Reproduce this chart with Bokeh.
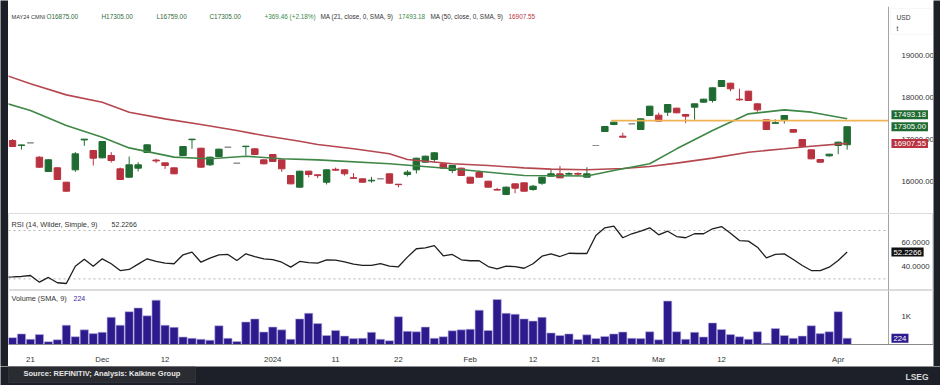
from bokeh.plotting import figure
from bokeh.layouts import column, row
from bokeh.models import (Range1d, FixedTicker, NumeralTickFormatter, Label, ColumnDataSource,
                          BoxAnnotation)
from bokeh.embed import file_html
from bokeh.resources import INLINE

# ---------------- data ----------------
idx = list(range(94))
opens = [16976, 16860, 16920, 16580, 16238, 16326, 15983, 16278, 16990, 16738,
         16563, 16619, 16302, 16103, 16317, 16690, 16510, 16444, 16325, 16619,
         16995, 16793, 16397, 16595, 16817, 16436, 16830, 16778, 16516, 16643,
         16516, 16143, 15865, 16246, 16160, 15983, 16290, 16278, 16090, 16064,
         16015, 16064, 16183, 15935, 16167, 16278, 16460, 16524, 16421, 16262,
         16317, 16103, 16214, 16008, 15808, 15690, 15944, 15968, 15809, 15960,
         16127, 16183, 16175, 16190, 16103, 16857, 17190, 17357, 17079, 17373,
         17238, 17571, 17579, 17651, 17746, 17595, 17770, 17889, 17929, 18262,
         18341, 17960, 18151, 17849, 17468, 17385, 17452, 17238, 17000, 16754,
         16524, 16611, 16857, 16875]
closes = [16833, 16870, 16920, 16340, 16517, 16048, 15769, 16658, 17008, 16555,
          16952, 16500, 16048, 16397, 16397, 16873, 16490, 16380, 16183, 16833,
          17008, 16341, 16579, 16770, 16817, 16436, 16841, 16643, 16421, 16476,
          16302, 15944, 16246, 16167, 16140, 16278, 16270, 16183, 16075, 15983,
          16030, 16064, 15960, 15925, 16222, 16555, 16603, 16683, 16317, 16381,
          16143, 15960, 16103, 15865, 15795, 15865, 15841, 15769, 15888, 16103,
          16183, 16087, 16190, 16175, 16183, 16857, 17310, 17413, 17056, 17373,
          17492, 17794, 17437, 17833, 17635, 17556, 17849, 17960, 18230, 18405,
          18207, 17945, 17929, 17706, 17238, 17400, 17571, 17174, 16833, 16540,
          16460, 16650, 16936, 17305]
highs = [17010, 16875, 16925, 16600, 16530, 16340, 15990, 16700, 17015, 16745,
         16960, 16700, 16330, 16595, 16460, 16880, 16540, 16450, 16330, 16840,
         17015, 16800, 16590, 16780, 16822, 16440, 16845, 16790, 16525, 16650,
         16525, 16150, 16255, 16255, 16165, 16290, 16330, 16290, 16200, 16070,
         16110, 16070, 16190, 15940, 16270, 16565, 16615, 16700, 16430, 16390,
         16330, 16110, 16260, 16015, 15850, 15880, 15950, 15975, 15920, 16110,
         16280, 16370, 16220, 16220, 16340, 16862, 17320, 17425, 17160, 17378,
         17500, 17800, 17640, 17845, 17755, 17610, 17860, 17970, 18240, 18415,
         18350, 18210, 18160, 17860, 17480, 17480, 17580, 17245, 17010, 16760,
         16530, 16660, 16950, 17305]
lows = [16820, 16760, 16915, 16330, 16230, 16040, 15760, 16230, 16850, 16380,
        16555, 16450, 16040, 16090, 16240, 16680, 16440, 16300, 16175, 16610,
        16780, 16330, 16370, 16585, 16812, 16430, 16619, 16635, 16410, 16465,
        16230, 15935, 15855, 16100, 16080, 15930, 16250, 16140, 16070, 15975,
        15970, 16058, 15950, 15860, 16120, 16190, 16450, 16450, 16300, 16200,
        16135, 15950, 16095, 15855, 15790, 15680, 15720, 15760, 15780, 15920,
        16120, 16080, 16150, 16130, 16095, 16852, 17180, 17340, 17050, 17368,
        17230, 17560, 17430, 17560, 17625, 17390, 17470, 17880, 17880, 18250,
        18150, 17920, 17920, 17660, 17230, 17380, 17380, 17165, 16825, 16530,
        16450, 16590, 16650, 16759]
volumes = [241, 373, 185, 350, 99, 165, 680, 274, 515, 383,
           429, 957, 680, 1155, 1287, 1010, 1561, 680, 604, 264,
           218, 185, 152, 660, 218, 109, 792, 901, 439, 614,
           515, 185, 901, 1099, 736, 317, 495, 297, 208, 218,
           429, 185, 132, 977, 462, 449, 614, 218, 274, 482,
           515, 538, 1208, 495, 1584, 1099, 1066, 901, 824, 957,
           406, 317, 373, 175, 340, 208, 284, 373, 439, 218,
           208, 449, 165, 1528, 449, 185, 429, 264, 759, 527,
           350, 274, 185, 449, 43, 561, 317, 218, 297, 660,
           383, 449, 1155, 224]
rsi_x = list(range(-1, 94))
rsi_vals = [31.3, 31.6, 32.0, 32.8, 27.3, 31.2, 26.8, 26.2, 40.5, 46.3,
            40.5, 46.6, 42.5, 36.9, 37.8, 42.2, 46.6, 44.4, 43.0, 42.5,
            49.9, 52.1, 43.8, 47.1, 49.9, 50.2, 45.2, 50.7, 48.5, 46.6,
            46.0, 43.8, 39.7, 44.4, 43.5, 43.0, 45.8, 45.5, 44.1, 42.2,
            41.1, 41.1, 42.7, 40.5, 40.0, 48.0, 54.9, 55.7, 57.5, 49.1,
            50.2, 45.8, 45.0, 45.0, 40.2, 38.3, 40.5, 40.2, 38.8, 42.5,
            48.8, 50.7, 48.5, 51.2, 51.0, 51.0, 65.9, 72.2, 73.6, 64.0,
            67.3, 69.4, 72.2, 66.4, 69.4, 65.0, 64.0, 67.3, 67.3, 71.4,
            73.3, 67.8, 61.7, 61.2, 56.2, 47.4, 50.2, 50.7, 46.0, 41.1,
            36.9, 36.9, 39.7, 45.2, 52.2266]
ma21_x = [-1, 2, 6, 10, 13, 18, 22, 26, 30, 34, 42, 49, 57, 64, 67, 71, 74, 78, 82, 86, 89, 93]
ma21_y = [17880, 17690, 17333, 17055, 16800, 16580, 16540, 16603, 16540, 16516, 16421,
          16302, 16143, 16130, 16262, 16421, 16778, 17214, 17611, 17706, 17651, 17493.18]
ma50_x = [-1, 2, 6, 10, 13, 17, 21, 25, 28, 32, 34, 38, 42, 44, 49, 53, 57, 60, 64,
          68, 71, 74, 78, 82, 86, 89, 93]
ma50_y = [18550, 18325, 18063, 17889, 17651, 17492, 17357, 17214, 17095, 16960, 16881,
          16778, 16659, 16524, 16421, 16381, 16325, 16294, 16278, 16310, 16357, 16437,
          16556, 16698, 16778, 16840, 16907.55]
level_start = [66.7]
level_value = [17450]
tick_idx = [2, 10, 17, 29, 36, 43, 51, 58, 65, 72, 79, 92]
tick_labels = ["21", "Dec", "12", "2024", "11", "22", "Feb", "12", "21", "Mar", "12", "Apr"]
price_ticks = [16000, 17000, 18000, 19000]
rsi_ticks = [40, 60]
rsi_levels = [70, 30]
vol_ticks = [1000]

# ---------------- styling ----------------
FONT = "Liberation Sans"
DARK = "#1d2029"
W = 925                     # white chart area width
X0, X1 = -0.4457, 102.62    # index range across the white area
AXIS_X = 97.6               # where the price scale column starts
GREEN = "#1f6b31"
RED = "#b8323f"
GREY = "#8c8c8c"
TXT = "#333333"

x_range = Range1d(X0, X1)


def make_fig(h, yr, bottom=0, xaxis=False):
    p = figure(width=W, height=h, x_range=x_range, y_range=yr, output_backend="svg",
               toolbar_location=None, min_border_left=0, min_border_right=0,
               min_border_top=0, min_border_bottom=bottom,
               x_axis_location="below" if xaxis else None, y_axis_location="right")
    p.xgrid.visible = False
    p.ygrid.visible = False
    p.background_fill_color = "white"
    p.border_fill_color = "white"
    ax = p.yaxis[0]
    ax.fixed_location = AXIS_X
    ax.major_tick_line_color = None
    ax.minor_tick_line_color = None
    ax.axis_line_color = "#a3a3a3"
    ax.major_label_text_font = FONT
    ax.major_label_text_font_size = "7.8px"
    ax.major_label_text_color = TXT
    ax.major_label_standoff = 7
    return p


def box(p, y, text, bg, yoff=0, fg="white"):
    p.add_layout(Label(x=AXIS_X, y=y, x_units="data", y_units="data", text=text,
                       text_color=fg, background_fill_color=bg, text_font=FONT,
                       text_font_size="7.8px", text_baseline="middle", text_align="left",
                       padding=2, x_offset=3, y_offset=yoff))


def head(p, x, y, text, color=TXT, size="6.4px", style="normal"):
    p.add_layout(Label(x=x, y=y, x_units="screen", y_units="screen", text=text,
                       text_color=color, text_font=FONT, text_font_size=size,
                       text_font_style=style, text_baseline="middle", text_align="left"))


def strip(w, h):
    s = figure(width=w, height=h, x_range=Range1d(0, 1), y_range=Range1d(0, 1),
               output_backend="svg", toolbar_location=None, min_border=0,
               x_axis_location=None, y_axis_location=None)
    s.xgrid.visible = False
    s.ygrid.visible = False
    s.outline_line_color = None
    s.background_fill_color = DARK
    s.border_fill_color = DARK
    return s


# ---------------- price panel ----------------
H1 = 207
p1 = make_fig(H1, Range1d(15238, 20167))
p1.outline_line_color = None
p1.yaxis[0].ticker = FixedTicker(ticks=price_ticks)
p1.yaxis[0].formatter = NumeralTickFormatter(format="0.00")

colors = [GREEN if c > o else (RED if c < o else GREY) for o, c in zip(opens, closes)]
src = ColumnDataSource(dict(x=idx, o=opens, c=closes, h=highs, l=lows, col=colors))
p1.segment(x0="x", x1="x", y0="l", y1="h", color="col", line_width=1, source=src)
p1.vbar(x="x", width=0.72, top="o", bottom="c", fill_color="col", line_color="col",
        line_width=1, source=src)
p1.line(ma50_x, ma50_y, line_color="#b5474f", line_width=1.6)
p1.line(ma21_x, ma21_y, line_color="#3f8746", line_width=1.6)
p1.segment(x0=level_start, x1=[AXIS_X] * len(level_start), y0=level_value,
           y1=level_value, line_color="#efb254", line_width=1.6)

hy = H1 - 10
head(p1, 3, hy, "MAY24 CMNI", TXT, "5.6px")
head(p1, 38, hy, "O16875.00", "#2f6a3c")
head(p1, 93, hy, "H17305.00", "#2f6a3c")
head(p1, 148, hy, "L16759.00", "#2f6a3c")
head(p1, 201, hy, "C17305.00", "#2f6a3c")
head(p1, 256, hy, "+369.46 (+2.18%)", "#3d8a4a")
head(p1, 312, hy, "MA (21, close, 0, SMA, 9)")
head(p1, 390, hy, "17493.18", "#3d8a4a")
head(p1, 422, hy, "MA (50, close, 0, SMA, 9)")
head(p1, 500, hy, "16907.55", RED)
p1.add_layout(BoxAnnotation(left=882, right=923, top=H1 - 2, bottom=H1 - 28,
                            left_units="screen", right_units="screen", top_units="screen",
                            bottom_units="screen", fill_color="white", fill_alpha=1,
                            line_color="#e4e4e4", line_width=1))
head(p1, 888, H1 - 11, "USD", TXT, "6.6px")
head(p1, 888, H1 - 22, "t", TXT, "6.6px")

box(p1, 17493.18, "17493.18", GREEN, yoff=4)
box(p1, 17305.00, "17305.00", GREEN)
box(p1, 16907.55, "16907.55", RED)

# ---------------- RSI panel ----------------
H2 = 77
p2 = make_fig(H2, Range1d(20.41, 84.05))
p2.outline_line_color = "#dcdcdc"
p2.yaxis[0].ticker = FixedTicker(ticks=rsi_ticks)
p2.yaxis[0].formatter = NumeralTickFormatter(format="0.0000")
p2.segment(x0=[X0] * len(rsi_levels), x1=[AXIS_X] * len(rsi_levels), y0=rsi_levels,
           y1=rsi_levels, line_color="#b4b4b4", line_dash="2 3", line_width=1)
p2.line(rsi_x, rsi_vals, line_color="#1e1e1e", line_width=1.3)
head(p2, 3, H2 - 11, "RSI (14, Wilder, Simple, 9)", TXT, "7.3px")
head(p2, 103, H2 - 11, "52.2266", TXT, "7.0px")
box(p2, rsi_vals[-1], "52.2266", "#111111")

# ---------------- volume panel ----------------
H3 = 76
p3 = make_fig(H3, Range1d(0, 1900), bottom=19, xaxis=True)
p3.outline_line_color = "#dcdcdc"
p3.yaxis[0].ticker = FixedTicker(ticks=vol_ticks)
p3.yaxis[0].major_label_overrides = {1000: "1K"}
p3.vbar(x=idx, width=0.92, top=volumes, bottom=0, fill_color="#2d1b8e",
        line_color="#b9b2e2", line_width=0.6)
xa = p3.xaxis[0]
xa.ticker = FixedTicker(ticks=tick_idx)
xa.major_label_overrides = {t: s for t, s in zip(tick_idx, tick_labels)}
xa.major_tick_line_color = None
xa.minor_tick_line_color = None
xa.axis_line_color = "#8a8a8a"
xa.major_label_text_font = FONT
xa.major_label_text_font_size = "7.8px"
xa.major_label_text_color = TXT
xa.major_label_standoff = 4
head(p3, 3, 57 - 11, "Volume (SMA, 9)", TXT, "7.3px")
head(p3, 65, 57 - 11, "224", "#3a2a9e", "7.0px")
box(p3, volumes[-1], "224", "#2d1b8e")

# ---------------- frame and footer ----------------
pf = strip(940, 19)
pf.add_layout(BoxAnnotation(left=8, right=195, top=19, bottom=3, left_units="screen",
                            right_units="screen", top_units="screen", bottom_units="screen",
                            fill_color="#2a2c31", fill_alpha=1, line_color="#50535b",
                            line_width=1))
head(pf, 23, 12, "Source: REFINITIV; Analysis: Kalkine Group", "#e6e6e6", "7.5px", "bold")
head(pf, 905, 9, "LSEG", "#d8d8d8", "8.5px", "bold")

main = column(strip(W, 6), p1, p2, p3, spacing=0)
body = row(strip(8, 366), main, strip(7, 366), spacing=0)
layout = column(body, pf, spacing=0)
open("out.html", "w").write(file_html(layout, INLINE))
